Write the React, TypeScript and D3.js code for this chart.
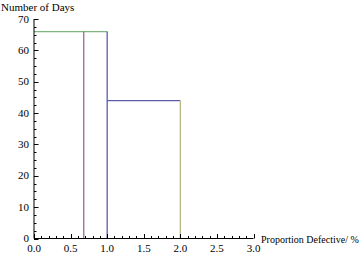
import React from "react";
import * as d3 from "d3";

const greenX = [0, 1.0];
const greenY = [66, 66];
const purpleX = [0.68, 0.68];
const purpleY = [0, 66];
const blueX = [1.0, 1.0, 1.0, 2.0];
const blueY = [0, 66, 44, 44];
const oliveX = [2.0, 2.0];
const oliveY = [44, 0];

const xTicks = [0, 0.5, 1.0, 1.5, 2.0, 2.5, 3.0];
const yTicks = [0, 10, 20, 30, 40, 50, 60, 70];

const W = 360, H = 255;

export default function App() {
  const x = d3.scaleLinear().domain([0, 3]).range([34, 253.5]);
  const y = d3.scaleLinear().domain([0, 70]).range([238.5, 19]);
  const line = d3.line<[number, number]>().x(d => x(d[0])).y(d => y(d[1]));
  const zip = (xs: number[], ys: number[]) => xs.map((v, i) => [v, ys[i]] as [number, number]);

  const series = [
    { xs: greenX, ys: greenY, c: "#7fb87f" },
    { xs: purpleX, ys: purpleY, c: "#9a6a9a" },
    { xs: blueX, ys: blueY, c: "#5c5cb0" },
    { xs: oliveX, ys: oliveY, c: "#b8b888" },
  ];

  const xMinor = d3.range(0, 31).map(i => i / 10);
  const yMinor = d3.range(0, 29).map(i => i * 2.5);
  const ts: React.CSSProperties = { fontFamily: "'Liberation Serif', 'DejaVu Serif', serif", fontSize: "11px" };
  const ts2: React.CSSProperties = { ...ts, fontSize: "10px" };

  return (
    <svg width={W} height={H} style={{ position: "absolute", left: 0, top: 0, background: "#fff" }}>
      <rect width={W} height={H} fill="#fff" />
      {series.map((s, i) => (
        <path key={i} d={line(zip(s.xs, s.ys)) || ""} fill="none" stroke={s.c} strokeWidth={1.3} />
      ))}
      <line x1={34} x2={34} y1={y(0)} y2={y(70)} stroke="#000" strokeWidth={1} />
      <line x1={34} x2={x(3)} y1={y(0)} y2={y(0)} stroke="#000" strokeWidth={1} />
      {yMinor.map((v, i) => {
        const major = v % 10 === 0;
        return <line key={"ym" + i} x1={34} x2={34 + (major ? 4.5 : 2.5)} y1={Math.round(y(v)) + 0.5} y2={Math.round(y(v)) + 0.5} stroke="#000" strokeWidth={1} />;
      })}
      {xMinor.map((v, i) => {
        const major = i % 5 === 0;
        return <line key={"xm" + i} x1={Math.round(x(v)) + 0.5} x2={Math.round(x(v)) + 0.5} y1={y(0)} y2={y(0) - (major ? 4.5 : 2.5)} stroke="#000" strokeWidth={1} />;
      })}
      {yTicks.map(v => (
        <text key={"yt" + v} x={29} y={y(v) + 3.5} textAnchor="end" style={ts} fill="#000">{v}</text>
      ))}
      {xTicks.map(v => (
        <text key={"xt" + v} x={x(v)} y={252} textAnchor="middle" style={ts} fill="#000">{v.toFixed(1)}</text>
      ))}
      <text x={1} y={11} style={ts} fill="#000">Number of Days</text>
      <text x={261} y={243} style={ts2} fill="#000">Proportion Defective/ %</text>
    </svg>
  );
}
